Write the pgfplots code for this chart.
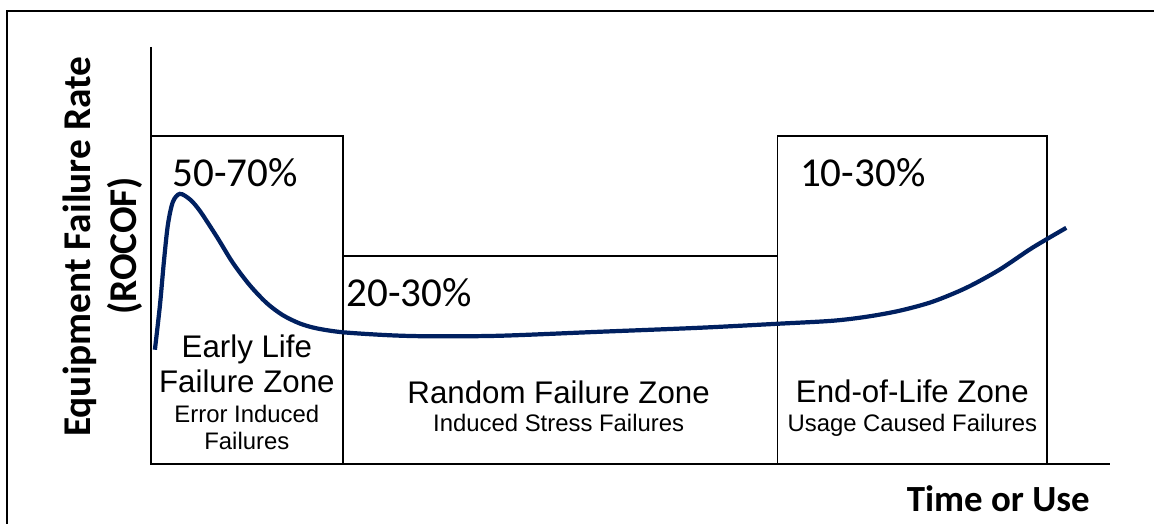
\documentclass[border=0pt]{standalone}
\usepackage{pgfplots}
\pgfplotsset{compat=1.18}
\usepackage{fontspec}
\setmainfont{Liberation Sans}
\newfontfamily\calibri{Carlito}
\definecolor{curveblue}{RGB}{0,32,96}

\begin{document}
\begin{tikzpicture}
\begin{axis}[
scale only axis,
width=115.5mm, height=52.4mm,
xmin=0, xmax=1155, ymin=0, ymax=524,
hide axis,
clip=false,
]
% keep the full canvas in the bounding box
\addplot[draw=none] coordinates {(0,0)(1155,524)};
% outer frame (left and top edges only visible)
\addplot[black, line width=0.45pt] coordinates {(7,0)(7,513)(1155,513)};
% axes
\addplot[black, line width=0.5pt] coordinates {(151,477)(151,60)(1111,60)};
% zone boxes
\addplot[black, line width=0.55pt] coordinates {(151,60)(151,388)(343,388)(343,60)};
\addplot[black, line width=0.55pt] coordinates {(343,268)(778,268)};
\addplot[black, line width=0.55pt] coordinates {(778,60)(778,388)(1048,388)(1048,60)};
% bathtub curve
\addplot[curveblue, line width=1.2pt, smooth, tension=0.5] coordinates {
(155,174)(160,218)(164,262)(168,299)(173,322)(180,330)(190,324.5)(200,313)
(217,287)(233,261)(250,238.5)(267,220.6)(283,208.6)(300,200.3)(317,195.4)
(343,191.5)(390,188.5)(430,187.5)(500,188)(600,192)(700,196)(778,200)
(833,203)(867,207)(900,213)(933,222)(967,236)(1000,254)(1033,276)(1067,296)};

% percentages
\node[anchor=base west, inner sep=0, font=\calibri\fontsize{11.7}{14}\selectfont] at (axis cs:172,337) {50-70\%};
\node[anchor=base west, inner sep=0, font=\calibri\fontsize{11.7}{14}\selectfont] at (axis cs:346,217) {20-30\%};
\node[anchor=base west, inner sep=0, font=\calibri\fontsize{11.7}{14}\selectfont] at (axis cs:800,337) {10-30\%};

% zone names
\node[anchor=base, inner sep=0, font=\fontsize{8.9}{10}\selectfont] at (axis cs:247,166) {Early Life};
\node[anchor=base, inner sep=0, font=\fontsize{8.9}{10}\selectfont] at (axis cs:247,131) {Failure Zone};
\node[anchor=base, inner sep=0, font=\fontsize{6.8}{8}\selectfont] at (axis cs:247,101) {Error Induced};
\node[anchor=base, inner sep=0, font=\fontsize{6.8}{8}\selectfont] at (axis cs:247,74) {Failures};

\node[anchor=base, inner sep=0, font=\fontsize{8.9}{10}\selectfont] at (axis cs:559,120) {Random Failure Zone};
\node[anchor=base, inner sep=0, font=\fontsize{6.8}{8}\selectfont] at (axis cs:559,92) {Induced Stress Failures};

\node[anchor=base, inner sep=0, font=\fontsize{8.9}{10}\selectfont] at (axis cs:913,121) {End-of-Life Zone};
\node[anchor=base, inner sep=0, font=\fontsize{6.8}{8}\selectfont] at (axis cs:913,92) {Usage Caused Failures};

% axis titles
\node[anchor=base, inner sep=0, rotate=90, font=\calibri\bfseries\fontsize{11.2}{13}\selectfont] at (axis cs:91,277) {Equipment Failure Rate};
\node[anchor=base, inner sep=0, rotate=90, font=\calibri\bfseries\fontsize{11.2}{13}\selectfont] at (axis cs:137,278) {(ROCOF)};
\node[anchor=base, inner sep=0, font=\calibri\bfseries\fontsize{10.5}{12}\selectfont] at (axis cs:999,12) {Time or Use};
\end{axis}
\end{tikzpicture}
\end{document}
